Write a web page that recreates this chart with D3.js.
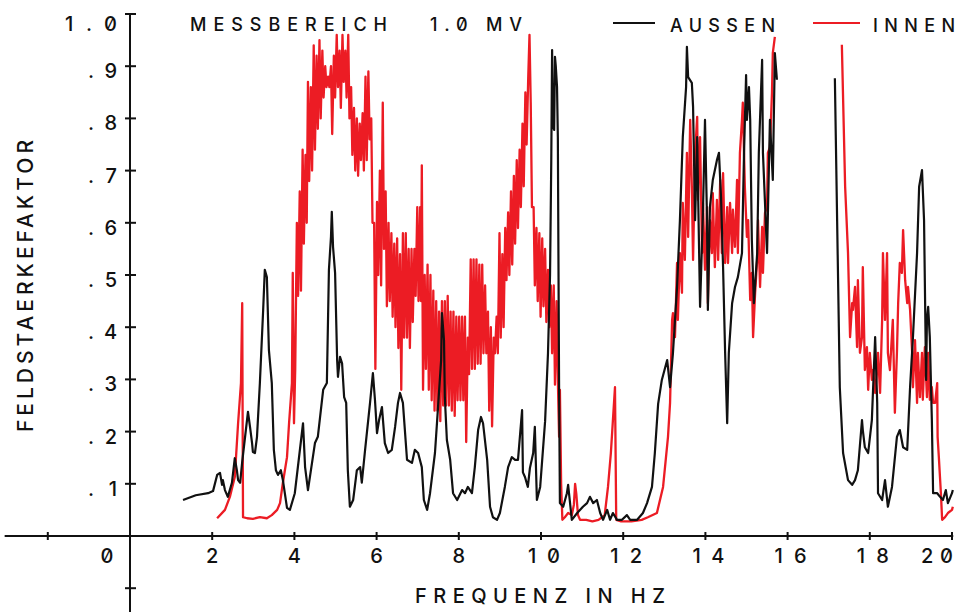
<!DOCTYPE html>
<html>
<head>
<meta charset="utf-8">
<script src="https://cdn.jsdelivr.net/npm/d3@7"></script>
<style>
  html, body { margin: 0; padding: 0; background: #ffffff; }
  svg { display: block; }
  text { font-family: Inter, "DejaVu Sans", sans-serif; font-weight: 500; font-feature-settings: "zero" 1; fill: #111; }
</style>
</head>
<body>
<svg id="chart" width="959" height="612"></svg>
<script>
// Frequency axis (Hz)
const xTicks = [-2, 2, 4, 6, 8, 10, 12, 14, 16, 18, 20];
const xLabels = [0, 2, 4, 6, 8, 10, 12, 14, 16, 18, 20];
// Field strength factor axis
const yTicks = [-0.1, 0.1, 0.2, 0.3, 0.4, 0.5, 0.6, 0.7, 0.8, 0.9];
const yLabels = [".1", ".2", ".3", ".4", ".5", ".6", ".7", ".8", ".9", "1.0"];
const yLabelValues = [0.1, 0.2, 0.3, 0.4, 0.5, 0.6, 0.7, 0.8, 0.9, 1.0];

const seriesNames = ["AUSSEN", "INNEN"];
const rangeText = ["MESSBEREICH", "1.0 MV"];

// AUSSEN, [Hz, factor]; the sweep is interrupted between ~15.7 and ~17.1 Hz
const aussenSeg1 = [
  [1.29,.069],[1.6,.078],[1.9,.082],[2.02,.086],[2.12,.117],[2.19,.121],[2.24,.098],[2.26,.107],
  [2.31,.088],[2.38,.075],[2.48,.102],[2.55,.149],[2.60,.126],[2.63,.107],[2.68,.102],[2.73,.142],
  [2.80,.190],[2.87,.238],[2.92,.209],[2.97,.178],[2.99,.161],[3.04,.159],[3.09,.190],[3.16,.293],
  [3.24,.433],[3.28,.510],[3.33,.496],[3.38,.356],[3.45,.293],[3.50,.165],[3.55,.126],[3.60,.117],
  [3.67,.126],[3.72,.107],[3.82,.054],[3.89,.050],[4.01,.082],[4.21,.216],[4.26,.132],[4.33,.088],
  [4.50,.178],[4.57,.190],[4.70,.280],[4.79,.293],[4.84,.510],[4.89,.573],[4.91,.621],[4.94,.554],
  [4.99,.504],[5.04,.337],[5.06,.305],[5.11,.343],[5.16,.331],[5.21,.266],[5.26,.255],[5.30,.126],
  [5.35,.056],[5.43,.069],[5.52,.126],[5.60,.132],[5.64,.102],[5.72,.165],[5.84,.255],[5.91,.312],
  [5.96,.261],[6.01,.197],[6.06,.222],[6.13,.247],[6.20,.178],[6.28,.159],[6.37,.165],[6.45,.209],
  [6.52,.255],[6.57,.274],[6.64,.255],[6.74,.146],[6.86,.140],[6.93,.165],[7.01,.159],[7.10,.132],
  [7.15,.069],[7.23,.050],[7.30,.082],[7.42,.159],[7.49,.241],[7.57,.337],[7.59,.427],[7.64,.375],
  [7.66,.266],[7.71,.184],[7.79,.146],[7.86,.082],[7.96,.069],[8.08,.088],[8.15,.082],[8.22,.094],
  [8.32,.082],[8.39,.132],[8.47,.203],[8.54,.228],[8.59,.216],[8.69,.146],[8.76,.056],[8.83,.036],
  [8.93,.031],[9.00,.044],[9.12,.094],[9.20,.132],[9.29,.151],[9.37,.146],[9.44,.146],[9.54,.241],
  [9.56,.122],[9.61,.113],[9.68,.094],[9.73,.130],[9.81,.159],[9.85,.209],[9.90,.069],[9.98,.094],
  [10.10,.220],[10.17,.350],[10.22,.500],[10.25,.720],[10.27,.931],[10.29,.785],[10.32,.778],
  [10.34,.918],[10.36,.900],[10.39,.860],[10.41,.764],[10.44,.285],[10.46,.063],[10.54,.056],
  [10.63,.082],[10.66,.098],[10.75,.031],[10.88,.044],[11.02,.056],[11.12,.063],[11.19,.075],
  [11.27,.063],[11.36,.069],[11.44,.044],[11.51,.031],[11.61,.050],[11.68,.031],[11.75,.044],
  [11.85,.031],[11.97,.031],[12.09,.040],[12.17,.031],[12.34,.031],[12.48,.044],[12.58,.063],
  [12.70,.094],[12.77,.159],[12.85,.253],[12.94,.299],[13.07,.337],[13.14,.285],[13.21,.350],
  [13.31,.477],[13.38,.605],[13.45,.764],[13.53,.860],[13.55,.937],[13.58,.879],[13.67,.868],
  [13.70,.822],[13.75,.605],[13.80,.764],[13.82,.669],[13.87,.439],[13.94,.619],[13.99,.797],
  [14.04,.605],[14.06,.433],[14.11,.630],[14.18,.682],[14.28,.720],[14.33,.734],[14.38,.649],
  [14.43,.515],[14.48,.351],[14.53,.216],[14.57,.351],[14.65,.446],[14.72,.477],[14.79,.496],
  [14.89,.542],[14.94,.734],[14.99,.883],[15.01,.797],[15.06,.860],[15.09,.797],[15.13,.567],
  [15.18,.446],[15.26,.542],[15.30,.734],[15.38,.912],[15.40,.734],[15.50,.542],[15.57,.797],
  [15.64,.682],[15.69,.925],[15.74,.874]
];
const aussenSeg2 = [
  [17.15,.877],[17.27,.285],[17.35,.159],[17.47,.107],[17.57,.098],[17.64,.107],[17.71,.126],
  [17.81,.222],[17.83,.203],[17.88,.170],[17.96,.159],[18.05,.222],[18.13,.381],[18.18,.255],
  [18.20,.082],[18.30,.069],[18.37,.107],[18.44,.056],[18.54,.094],[18.66,.190],[18.73,.203],
  [18.81,.170],[18.91,.165],[18.98,.285],[19.05,.381],[19.15,.542],[19.20,.669],[19.27,.701],
  [19.32,.605],[19.37,.299],[19.39,.414],[19.42,.439],[19.46,.381],[19.51,.222],[19.54,.082],
  [19.64,.082],[19.71,.075],[19.78,.069],[19.85,.088],[19.90,.063],[20.00,.082],[20.02,.088]
];

// INNEN, [Hz, factor]
const innenSeg1 = [
  [2.12,.034],[2.31,.050],[2.43,.075],[2.55,.113],[2.63,.216],[2.70,.293],[2.73,.446],[2.75,.036],
  [2.85,.034],[2.99,.033],[3.16,.036],[3.33,.034],[3.45,.040],[3.58,.050],[3.65,.063],[3.72,.102],
  [3.82,.151],[3.87,.216],[3.94,.293],[3.96,.504],[3.99,.216],[4.02,.32],[4.04,.46],
  [4.06,.60],[4.09,.46],[4.13,.66],[4.16,.47],[4.20,.74],[4.23,.56],[4.27,.73],[4.30,.60],
  [4.33,.87],[4.36,.68],[4.40,.86],[4.43,.70],[4.47,.94],[4.50,.74],[4.54,.92],[4.57,.78],
  [4.61,.95],[4.64,.80],[4.68,.93],[4.71,.84],[4.75,.90],[4.78,.86],[4.82,.88],[4.85,.86],
  [4.89,.90],[4.92,.77],[4.96,.92],[4.99,.84],[5.03,.96],[5.06,.86],[5.10,.93],[5.13,.82],
  [5.17,.96],[5.20,.87],[5.24,.93],[5.27,.84],[5.31,.96],[5.34,.80],[5.38,.86],[5.41,.73],
  [5.45,.82],[5.48,.70],[5.52,.80],[5.55,.69],[5.59,.79],[5.62,.72],[5.66,.81],[5.69,.70],
  [5.73,.88],[5.76,.72],[5.80,.89],[5.83,.76],[5.87,.80],[5.90,.60],[5.94,.60],[5.97,.32],
  [6.01,.64],[6.04,.50],[6.08,.70],[6.11,.48],[6.15,.83],[6.18,.55],[6.22,.66],[6.25,.44],
  [6.29,.60],[6.32,.45],[6.36,.58],[6.39,.42],[6.43,.56],[6.46,.40],[6.50,.57],[6.53,.36],
  [6.57,.54],[6.60,.28],[6.64,.58],[6.67,.38],[6.71,.58],[6.74,.38],[6.78,.55],[6.81,.36],
  [6.85,.55],[6.88,.41],[6.92,.55],[6.95,.46],[6.99,.63],[7.02,.45],[7.06,.63],[7.08,.45],
  [7.10,.71],[7.13,.28],[7.17,.50],[7.20,.32],[7.24,.52],[7.27,.28],[7.31,.50],[7.34,.26],
  [7.38,.47],[7.41,.24],[7.45,.45],[7.48,.24],[7.52,.43],[7.55,.22],[7.59,.45],[7.62,.25],
  [7.66,.45],[7.69,.25],[7.73,.46],[7.76,.25],[7.80,.43],[7.83,.24],[7.87,.43],[7.90,.23],
  [7.94,.42],[7.97,.26],[8.01,.42],[8.04,.26],[8.08,.42],[8.11,.26],[8.15,.42],[8.18,.18],
  [8.22,.38],[8.25,.31],[8.29,.53],[8.32,.32],[8.36,.53],[8.39,.32],[8.43,.53],[8.46,.33],
  [8.50,.52],[8.53,.33],[8.57,.52],[8.60,.35],[8.64,.48],[8.67,.35],[8.71,.43],[8.74,.24],
  [8.78,.40],[8.81,.21],[8.85,.38],[8.88,.35],[8.92,.42],[8.95,.35],[8.99,.58],[9.02,.38],
  [9.06,.54],[9.09,.40],[9.13,.59],[9.16,.49],[9.20,.62],[9.23,.50],[9.27,.66],[9.30,.52],
  [9.34,.69],[9.37,.56],[9.41,.72],[9.44,.59],[9.48,.74],[9.51,.63],[9.55,.79],[9.58,.67],
  [9.62,.85],[9.65,.75],[9.69,.88],[9.72,.96],[9.75,.83],[9.78,.63],[9.82,.63],[9.85,.48],
  [9.89,.59],[9.92,.45],[9.96,.58],[9.99,.42],[10.03,.57],[10.06,.44],[10.10,.55],[10.13,.41],
  [10.17,.51],[10.20,.40],[10.24,.48],[10.27,.35],[10.31,.48],[10.34,.29],[10.38,.45],[10.41,.30],
  [10.44,.19],[10.46,.28],[10.49,.10],[10.52,.031],[10.58,.036],[10.66,.044],[10.75,.040],
  [10.80,.060],[10.83,.100],[10.86,.080],[10.90,.040],[10.95,.031],[11.1,.031],[11.25,.028],
  [11.4,.031],[11.55,.040],[11.63,.094],[11.70,.159],[11.75,.222],[11.80,.285],[11.83,.031],
  [11.95,.028],[12.2,.028],[12.45,.031],[12.6,.036],[12.82,.044],[12.97,.094],[13.09,.190],
  [13.14,.255],[13.19,.414],[13.21,.427],[13.26,.381],[13.31,.523],[13.33,.414],[13.38,.542],
  [13.43,.466],[13.45,.638],[13.50,.529],[13.55,.734],[13.58,.573],[13.63,.797],[13.67,.669],
  [13.70,.529],[13.75,.734],[13.80,.803],[13.82,.644],[13.87,.764],[13.92,.542],[13.94,.638],
  [13.99,.510],[14.04,.630],[14.06,.446],[14.11,.605],[14.16,.542],[14.18,.657],[14.23,.515],
  [14.28,.644],[14.31,.529],[14.36,.682],[14.40,.542],[14.43,.695],[14.48,.523],[14.53,.630],
  [14.55,.523],[14.60,.638],[14.65,.542],[14.67,.625],[14.72,.554],[14.77,.682],[14.79,.542],
  [14.84,.734],[14.89,.797],[14.91,.830],[14.96,.669],[15.01,.573],[15.04,.605],[15.09,.452],
  [15.13,.504],[15.16,.381],[15.21,.466],[15.26,.529],[15.28,.605],[15.33,.477],[15.38,.592],
  [15.40,.504],[15.45,.619],[15.50,.630],[15.52,.734],[15.57,.745],[15.62,.849],[15.64,.925],
  [15.69,.956]
];
const innenSeg2 = [
  [17.32,.941],[17.40,.669],[17.47,.542],[17.52,.381],[17.57,.446],[17.59,.433],[17.64,.477],
  [17.69,.362],[17.71,.490],[17.76,.351],[17.81,.381],[17.83,.515],[17.88,.318],[17.93,.362],
  [17.96,.280],[18.00,.351],[18.05,.299],[18.08,.318],[18.13,.274],[18.18,.318],[18.20,.351],
  [18.25,.274],[18.30,.414],[18.32,.542],[18.37,.414],[18.42,.542],[18.44,.351],[18.49,.318],
  [18.56,.414],[18.61,.236],[18.66,.351],[18.69,.446],[18.73,.523],[18.78,.504],[18.81,.586],
  [18.86,.490],[18.91,.446],[18.93,.477],[18.98,.433],[19.03,.351],[19.05,.285],[19.10,.375],
  [19.15,.255],[19.17,.351],[19.22,.266],[19.27,.351],[19.29,.261],[19.34,.362],[19.39,.266],
  [19.42,.351],[19.46,.261],[19.51,.285],[19.54,.255],[19.59,.255],[19.64,.293],[19.65,.190],
  [19.68,.151],[19.73,.082],[19.76,.031],[19.83,.036],[19.90,.044],[20.00,.050],[20.02,.056]
];

const svg = d3.select("#chart");
const x = d3.scaleLinear().domain([0, 20]).range([130, 952]);
const y = d3.scaleLinear().domain([0, 1]).range([536, 14]);

const BLACK = "#111111";
const RED = "#ec1c24";

// Axes: cross through the origin, extended into the negative quadrant
const axes = svg.append("g").attr("stroke", BLACK).attr("stroke-width", 2).attr("fill", "none");
axes.append("line").attr("x1", x(-3.05)).attr("x2", x(20.03)).attr("y1", y(0)).attr("y2", y(0));
axes.append("line").attr("x1", x(0)).attr("x2", x(0)).attr("y1", y(1.0)).attr("y2", 612);
axes.append("line").attr("x1", x(0) - 5).attr("x2", x(0) + 6).attr("y1", y(1.0)).attr("y2", y(1.0));
axes.selectAll("line.xt").data(xTicks).join("line").attr("class", "xt")
  .attr("x1", d => x(d)).attr("x2", d => x(d)).attr("y1", y(0) - 4).attr("y2", y(0) + 4);
axes.selectAll("line.yt").data(yTicks).join("line").attr("class", "yt")
  .attr("x1", x(0) - 5).attr("x2", x(0) + 6).attr("y1", d => y(d)).attr("y2", d => y(d));

// Tick labels
const labelOffset = v => (v === 0 ? -23 : v === 20 ? -15 : v >= 10 ? 3 : 0);
svg.append("g").selectAll("text").data(xLabels).join("text")
  .attr("x", d => x(d) + labelOffset(d)).attr("y", 563)
  .attr("text-anchor", "middle").attr("font-size", 20)
  .each(function (d) { if (d >= 10) d3.select(this).attr("textLength", 32).attr("lengthAdjust", "spacing"); })
  .text(d => d);

svg.append("g").selectAll("text").data(yLabels).join("text")
  .attr("x", 117)
  .attr("y", (d, i) => y(yLabelValues[i]) + (yLabelValues[i] === 1 ? 17 : 12))
  .attr("text-anchor", "end").attr("font-size", 20)
  .attr("textLength", d => (d.length === 3 ? 52 : 29)).attr("lengthAdjust", "spacing")
  .text(d => d);

// Axis titles
svg.append("text").attr("x", 415).attr("y", 603).attr("font-size", 20)
  .attr("textLength", 250).attr("lengthAdjust", "spacing").text("FREQUENZ IN HZ");
svg.append("text").attr("transform", "translate(33,286) rotate(-90)")
  .attr("text-anchor", "middle").attr("font-size", 21)
  .attr("textLength", 292).attr("lengthAdjust", "spacing").text("FELDSTAERKEFAKTOR");

// Measuring range note
svg.append("text").attr("x", 190).attr("y", 31).attr("font-size", 18)
  .attr("textLength", 197).attr("lengthAdjust", "spacing").text(rangeText[0]);
svg.append("text").attr("x", 430).attr("y", 31).attr("font-size", 18)
  .attr("textLength", 92).attr("lengthAdjust", "spacing").text(rangeText[1]);

// Legend
const legend = svg.append("g");
legend.append("line").attr("x1", 613).attr("x2", 655).attr("y1", 23).attr("y2", 23)
  .attr("stroke", BLACK).attr("stroke-width", 2);
legend.append("text").attr("x", 670).attr("y", 32).attr("font-size", 18)
  .attr("textLength", 105).attr("lengthAdjust", "spacing").text(seriesNames[0]);
legend.append("line").attr("x1", 813).attr("x2", 860).attr("y1", 23).attr("y2", 23)
  .attr("stroke", RED).attr("stroke-width", 2);
legend.append("text").attr("x", 873).attr("y", 32).attr("font-size", 18)
  .attr("textLength", 82).attr("lengthAdjust", "spacing").text(seriesNames[1]);

// Curves: INNEN underneath, AUSSEN drawn on top
const line = d3.line().x(d => x(d[0])).y(d => y(d[1]));
const curves = svg.append("g").attr("fill", "none").attr("stroke-linejoin", "round");
[innenSeg1, innenSeg2].forEach(seg =>
  curves.append("path").attr("d", line(seg)).attr("stroke", RED).attr("stroke-width", 2.3));
[aussenSeg1, aussenSeg2].forEach(seg =>
  curves.append("path").attr("d", line(seg)).attr("stroke", BLACK).attr("stroke-width", 2.2));
</script>
</body>
</html>
